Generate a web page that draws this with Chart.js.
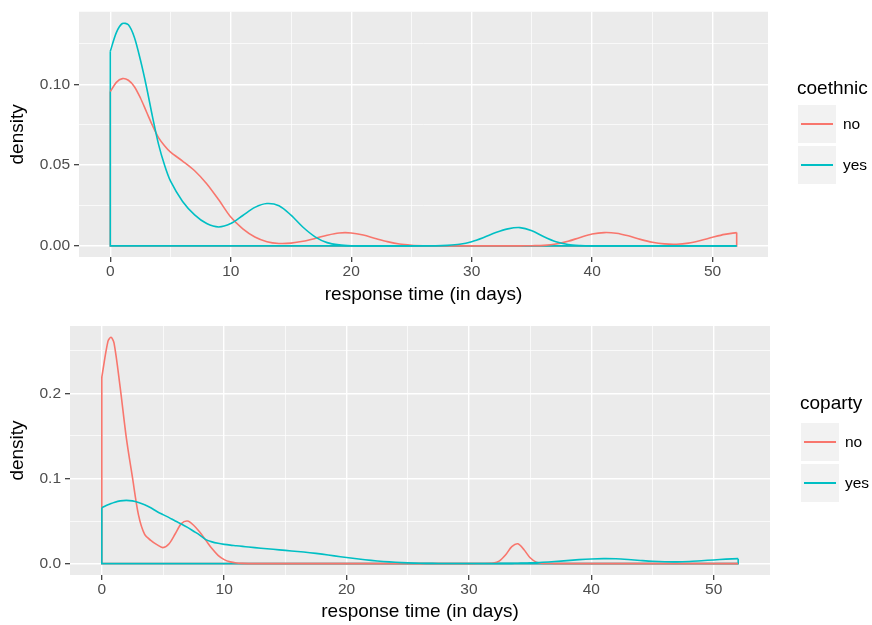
<!DOCTYPE html>
<html>
<head>
<meta charset="utf-8">
<script src="https://cdn.jsdelivr.net/npm/chart.js@4.4.1/dist/chart.umd.min.js"></script>
<style>
  body { margin: 0; background: #fff; }
  #wrap { position: relative; width: 872px; height: 625px; overflow: hidden; font-family: "Liberation Sans", Arial, sans-serif; }
  canvas { position: absolute; left: 0; }
  .legend-title { position: absolute; font-size: 19px; line-height: 19px; color: #000; white-space: nowrap; }
  .key { position: absolute; width: 38px; height: 38px; background: #F2F2F2; }
  .key span { position: absolute; left: 3px; right: 3px; top: 18px; height: 0; border-top: 2px solid transparent; }
  .key-label { position: absolute; font-size: 15.5px; line-height: 38px; color: #000; }
</style>
</head>
<body>
<div id="wrap">
  <canvas id="topChart" width="872" height="312" style="top:0"></canvas>
  <canvas id="bottomChart" width="872" height="313" style="top:312px"></canvas>
</div>
<script>
// groups and colours (ggplot default hue palette)
const groups = ['no', 'yes'];
const groupColors = ['#F8766D', '#00BFC4'];

// top panel: density of response time by coethnic
const coethnicDays = [0, 0.5, 1, 1.5, 2, 2.5, 3, 3.5, 4, 4.5, 5,
  6, 7, 8, 9, 10, 11, 12, 13, 14, 15, 16, 17, 18, 19, 20, 21, 22, 23, 24, 25, 26, 27, 28, 29,
  30, 31, 32, 33, 34, 35, 36, 37, 38, 39, 40, 41, 42, 43, 44, 45, 46, 47, 48, 49, 50, 51, 52];
const coethnicNo = [0.0955, 0.1012, 0.1035, 0.1025, 0.0985, 0.0915, 0.0830, 0.0745, 0.0670, 0.0620, 0.0580,
  0.0525, 0.0465, 0.0385, 0.0285, 0.0178, 0.0105, 0.0055, 0.0026, 0.0015, 0.0017, 0.0028, 0.0046, 0.0066, 0.0080,
  0.0080, 0.0067, 0.0046, 0.0026, 0.0011, 0.0004, 0.0001, 0, 0, 0, 0, 0, 0, 0, 0,
  0.0001, 0.0003, 0.0011, 0.0028, 0.0052, 0.0073, 0.0082, 0.0078, 0.0062, 0.0040, 0.0022, 0.0012, 0.0010,
  0.0017, 0.0033, 0.0053, 0.0071, 0.0082];
const coethnicYes = [0.1204, 0.1320, 0.1376, 0.1368, 0.1290, 0.1150, 0.0985, 0.0800, 0.0630, 0.0500, 0.0400,
  0.0275, 0.0192, 0.0138, 0.0117, 0.0138, 0.0188, 0.0238, 0.0262, 0.0248, 0.0190, 0.0115, 0.0056, 0.0020, 0.0006,
  0.0001, 0, 0, 0, 0, 0, 0, 0,
  0.0003, 0.0010, 0.0026, 0.0052, 0.0082, 0.0105, 0.0113, 0.0094, 0.0056, 0.0025, 0.0008, 0.0002,
  0, 0, 0, 0, 0, 0, 0, 0, 0, 0, 0, 0, 0];

// bottom panel: density of response time by coparty
const copartyDays = [0, 0.5, 0.75, 1, 1.5, 2, 2.5, 3, 3.5, 4, 4.5, 5, 5.5, 6, 6.5, 7, 7.5, 8, 8.5, 9, 9.5, 10, 10.5, 11, 11.5, 12,
  13, 14, 15, 16, 17, 18, 19, 20, 21, 22, 23, 24, 25, 26, 27, 28, 29, 30, 31,
  32, 32.5, 33, 33.5, 34, 34.5, 35, 35.5, 36,
  37, 38, 39, 40, 41, 42, 43, 44, 45, 46, 47, 48, 49, 50, 51, 52];
const copartyNo = [0.219, 0.261, 0.2657, 0.259, 0.207, 0.148, 0.1015, 0.057, 0.0343, 0.0273, 0.0222, 0.0188, 0.0234, 0.0350,
  0.0469, 0.0500, 0.0450, 0.0370, 0.0273, 0.0176, 0.0097, 0.0047, 0.0020, 0.0007, 0.0002, 0,
  0, 0, 0, 0, 0, 0, 0, 0, 0, 0, 0, 0, 0, 0, 0, 0, 0, 0, 0.0001,
  0.0006, 0.0032, 0.0103, 0.0199, 0.0232, 0.0162, 0.0068, 0.0017, 0.0003,
  0, 0, 0, 0, 0, 0, 0, 0, 0, 0, 0, 0, 0, 0, 0, 0];
const copartyYes = [0.0656, 0.0690, 0.0705, 0.0718, 0.0736, 0.0742, 0.0736, 0.0718, 0.0690, 0.0655, 0.0612, 0.0575, 0.0540,
  0.0500, 0.0465, 0.0425, 0.0380, 0.0335, 0.0282, 0.0255, 0.0238, 0.0226, 0.0217, 0.0210, 0.0202, 0.0195,
  0.0180, 0.0168, 0.0155, 0.0142, 0.0128, 0.0111, 0.0091, 0.0071, 0.0054, 0.0038, 0.0025, 0.0015, 0.0008,
  0.0004, 0.0002, 0.0001, 0.0001, 0.0001, 0.0001,
  0.0001, 0.0002, 0.0002, 0.0003, 0.0004, 0.0006, 0.0008, 0.0011, 0.0015,
  0.0024, 0.0035, 0.0046, 0.0054, 0.0058, 0.0056, 0.0048, 0.0037, 0.0027, 0.0021, 0.0020, 0.0025,
  0.0034, 0.0043, 0.0052, 0.0058];

// tick values (majors get labels, minors only a thin grid line)
const xTicks = [0, 5, 10, 15, 20, 25, 30, 35, 40, 45, 50];
const coethnicYTicks = [0, 0.025, 0.05, 0.075, 0.10, 0.125];
const copartyYTicks = [0, 0.05, 0.1, 0.15, 0.2, 0.25];

const FONT = "'Liberation Sans', Arial, sans-serif";

const isMajor = (v, step) => Math.abs(v / step - Math.round(v / step)) < 1e-6;

// panel background like theme_grey
const panelBg = {
  id: 'panelBg',
  beforeDraw(chart) {
    const { ctx, chartArea: a } = chart;
    ctx.save();
    ctx.fillStyle = '#EBEBEB';
    ctx.fillRect(a.left, a.top, a.right - a.left, a.bottom - a.top);
    ctx.restore();
  }
};

const makePanel = (canvasId, days, series, yTicks, yStep, yDec, p) => {
  const datasets = [];
  series.forEach((vals, i) => {
    const last = days.length - 1;
    // density curve
    datasets.push({
      label: groups[i],
      data: days.map((d, k) => ({ x: d, y: vals[k] })),
      borderColor: groupColors[i],
      borderWidth: 1.6,
      pointRadius: 0,
      showLine: true,
      tension: 0.3,
      order: 1 - i
    });
    // outline: vertical at both ends + baseline
    datasets.push({
      label: groups[i] + ' outline',
      data: [
        { x: days[0], y: vals[0] }, { x: days[0], y: 0 },
        { x: days[last], y: 0 }, { x: days[last], y: vals[last] }
      ],
      borderColor: groupColors[i],
      borderWidth: 1.6,
      pointRadius: 0,
      showLine: true,
      tension: 0,
      order: 3 - i
    });
  });

  return new Chart(document.getElementById(canvasId), {
    type: 'scatter',
    data: { datasets },
    options: {
      responsive: false,
      animation: false,
      events: [],
      layout: { padding: { top: p.top, right: p.right, left: 0, bottom: 0 } },
      plugins: { legend: { display: false }, tooltip: { enabled: false } },
      scales: {
        x: {
          type: 'linear',
          min: -2.6,
          max: 54.6,
          afterBuildTicks: s => { s.ticks = xTicks.map(v => ({ value: v })); },
          afterFit: s => { s.height = p.xHeight; },
          border: { display: false },
          grid: {
            color: '#FFFFFF',
            lineWidth: c => isMajor(c.tick.value, 10) ? 1.4 : 0.7,
            tickLength: 5,
            tickWidth: 1.2,
            tickColor: c => isMajor(c.tick.value, 10) ? '#333333' : 'rgba(0,0,0,0)'
          },
          ticks: {
            autoSkip: false,
            maxRotation: 0,
            padding: 2,
            color: '#4D4D4D',
            font: { family: FONT, size: 15.5, lineHeight: 1 },
            callback: v => isMajor(v, 10) ? String(v) : ''
          },
          title: {
            display: true,
            text: 'response time (in days)',
            color: '#000',
            font: { family: FONT, size: 19 },
            padding: { top: 0, bottom: p.xTitlePad }
          }
        },
        y: {
          type: 'linear',
          min: p.yMin,
          max: p.yMax,
          afterBuildTicks: s => { s.ticks = yTicks.map(v => ({ value: v })); },
          afterFit: s => { s.width = p.yWidth; },
          border: { display: false },
          grid: {
            color: '#FFFFFF',
            lineWidth: c => isMajor(c.tick.value, yStep) ? 1.4 : 0.7,
            tickLength: 5,
            tickWidth: 1.2,
            tickColor: c => isMajor(c.tick.value, yStep) ? '#333333' : 'rgba(0,0,0,0)'
          },
          ticks: {
            autoSkip: false,
            padding: 4,
            color: '#4D4D4D',
            font: { family: FONT, size: 15.5, lineHeight: 1 },
            callback: v => isMajor(v, yStep) ? v.toFixed(yDec) : ''
          },
          title: {
            display: true,
            text: 'density',
            color: '#000',
            font: { family: FONT, size: 19 },
            padding: { top: 6, bottom: 0 }
          }
        }
      }
    },
    plugins: [panelBg]
  });
};

// html legend beside a panel
const addLegend = (title, lg) => {
  const wrap = document.getElementById('wrap');
  const t = document.createElement('div');
  t.className = 'legend-title';
  t.textContent = title;
  t.style.left = lg.titleX + 'px';
  t.style.top = lg.titleY + 'px';
  wrap.appendChild(t);
  groups.forEach((g, i) => {
    const top = lg.keyY + i * lg.keyGap;
    const key = document.createElement('div');
    key.className = 'key';
    key.style.left = lg.keyX + 'px';
    key.style.top = top + 'px';
    const line = document.createElement('span');
    line.style.borderTopColor = groupColors[i];
    key.appendChild(line);
    wrap.appendChild(key);
    const lab = document.createElement('div');
    lab.className = 'key-label';
    lab.textContent = g;
    lab.style.left = lg.labelX + 'px';
    lab.style.top = top + 'px';
    wrap.appendChild(lab);
  });
};

makePanel('topChart', coethnicDays, [coethnicNo, coethnicYes], coethnicYTicks, 0.05, 2,
  { top: 8, right: 104, xHeight: 55, yWidth: 79, xTitlePad: 6, yMin: -0.0069, yMax: 0.1449 });
makePanel('bottomChart', copartyDays, [copartyNo, copartyYes], copartyYTicks, 0.1, 1,
  { top: 14, right: 102, xHeight: 50, yWidth: 70, xTitlePad: 1.5, yMin: -0.0134, yMax: 0.2790 });

addLegend('coethnic', { titleX: 797, titleY: 78, keyX: 798, keyY: 105, keyGap: 41, labelX: 843 });
addLegend('coparty', { titleX: 800, titleY: 393, keyX: 801, keyY: 423, keyGap: 40.5, labelX: 845 });
</script>
</body>
</html>
